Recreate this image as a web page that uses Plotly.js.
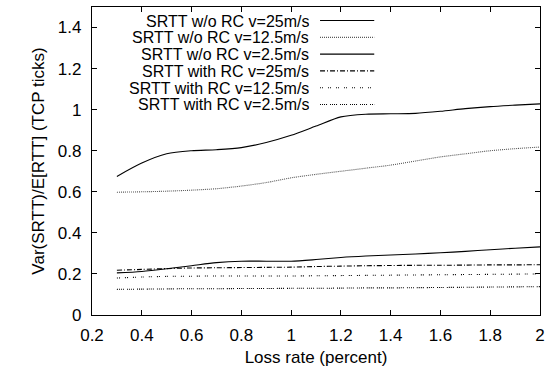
<!DOCTYPE html>
<html><head><meta charset="utf-8">
<script src="https://cdn.plot.ly/plotly-3.0.1.min.js"></script>
<style>html,body{margin:0;padding:0;background:#fff;}#chart{width:551px;height:369px;}</style>
</head><body><div id="chart"></div>
<script>
const lossRate = [0.3,0.4,0.5,0.6,0.7,0.8,0.9,1.0,1.1,1.2,1.3,1.4,1.5,1.6,1.7,1.8,1.9,2.0];
const seriesNames = [
  "SRTT w/o RC v=25m/s",
  "SRTT w/o RC v=12.5m/s",
  "SRTT w/o RC v=2.5m/s",
  "SRTT with RC v=25m/s",
  "SRTT with RC v=12.5m/s",
  "SRTT with RC v=2.5m/s"
];
const woRC25  = [0.675,0.74,0.785,0.80,0.805,0.815,0.84,0.875,0.92,0.965,0.978,0.98,0.982,0.992,1.005,1.015,1.022,1.028];
const woRC125 = [0.598,0.600,0.603,0.608,0.615,0.628,0.645,0.668,0.685,0.70,0.715,0.73,0.75,0.77,0.785,0.80,0.81,0.818];
const woRC25b = [0.205,0.212,0.225,0.24,0.255,0.262,0.262,0.262,0.27,0.28,0.287,0.292,0.297,0.303,0.31,0.318,0.325,0.332];
const wRC25   = [0.218,0.222,0.226,0.229,0.23,0.231,0.232,0.233,0.236,0.238,0.24,0.241,0.242,0.242,0.243,0.244,0.244,0.245];
const wRC125  = [0.18,0.185,0.188,0.189,0.19,0.19,0.19,0.19,0.191,0.192,0.193,0.194,0.195,0.196,0.197,0.198,0.199,0.20];
const wRC25b  = [0.125,0.126,0.127,0.128,0.128,0.129,0.129,0.130,0.130,0.131,0.132,0.132,0.133,0.134,0.135,0.136,0.137,0.138];
const xTicks = [0.2,0.4,0.6,0.8,1,1.2,1.4,1.6,1.8,2];
const yTicks = [0,0.2,0.4,0.6,0.8,1,1.2,1.4];

const allSeries = [woRC25, woRC125, woRC25b, wRC25, wRC125, wRC25b];
const styles = [
  {color:'#000', width:1.1, dash:'solid'},
  {color:'#555', width:1.1, dash:'1px,1px'},
  {color:'#000', width:1.1, dash:'solid'},
  {color:'#000', width:1.1, dash:'5px,2px,1px,2px'},
  {color:'#000', width:1.1, dash:'1px,1px,1px,5px'},
  {color:'#000', width:1.1, dash:'1px,1px,1px,1px,1px,1px,1px,3px'}
];

const traces = allSeries.map((s,i)=>({
  x: lossRate, y: s, type:'scatter', mode:'lines', name: seriesNames[i],
  line: Object.assign({shape:'spline', smoothing:0.8}, styles[i]), showlegend:false
}));

const FAM = 'Liberation Sans, Arial, Helvetica, sans-serif';
const FS = 17;
const annotations = [], shapes = [];
const legTop = 0.956, legStep = 0.0545;
seriesNames.forEach((n,i)=>{
  const yy = legTop - i*legStep;
  annotations.push({xref:'paper', yref:'paper', x:0.4855, y:yy, xanchor:'right', yanchor:'middle',
    text:n, showarrow:false, borderpad:0, height:16, valign:'middle',
    font:{family:FAM, size:16, color:'#000'}});
  shapes.push({type:'line', xref:'paper', yref:'paper', x0:0.509, x1:0.630, y0:yy, y1:yy,
    line:{color:styles[i].color, width:styles[i].width, dash:styles[i].dash}});
});

const layout = {
  width:551, height:369,
  margin:{l:92, r:11, t:7, b:54},
  paper_bgcolor:'#fff', plot_bgcolor:'#fff',
  font:{family:FAM, size:FS, color:'#000'},
  showlegend:false,
  xaxis:{range:[0.2,2], tickvals:xTicks, ticktext:xTicks.map(String), ticks:'inside', ticklen:5,
    mirror:'ticks', showline:true, linecolor:'#000', linewidth:1.2, tickcolor:'#000', showgrid:false, zeroline:false,
    ticklabelstandoff:4,
    title:{text:'Loss rate (percent)', font:{size:FS}, standoff:7}, tickfont:{size:FS}},
  yaxis:{range:[0,1.5], tickvals:yTicks, ticktext:yTicks.map(String), ticks:'inside', ticklen:5,
    mirror:'ticks', showline:true, linecolor:'#000', linewidth:1.2, tickcolor:'#000', showgrid:false, zeroline:false,
    ticklabelstandoff:6,
    title:{text:'Var(SRTT)/E[RTT] (TCP ticks)', font:{size:FS}, standoff:8}, tickfont:{size:FS}},
  annotations: annotations,
  shapes: shapes
};
Plotly.newPlot('chart', traces, layout, {staticPlot:true, displayModeBar:false});
</script></body></html>
